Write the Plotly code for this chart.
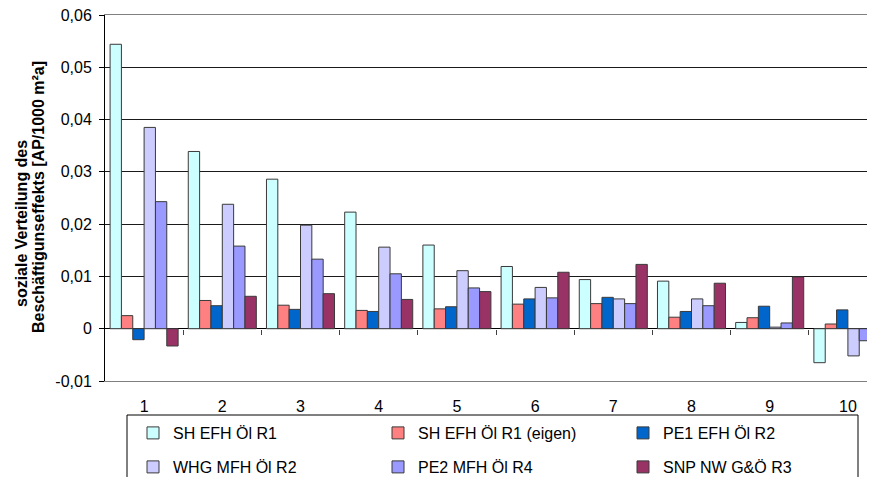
import plotly.graph_objects as go

categories = [1, 2, 3, 4, 5, 6, 7, 8, 9, 10]

series_names = ["SH EFH Öl R1", "SH EFH Öl R1 (eigen)", "PE1 EFH Öl R2",
                "WHG MFH Öl R2", "PE2 MFH Öl R4", "SNP NW G&Ö R3"]

sh_efh_r1 = [0.0544, 0.0339, 0.0286, 0.0223, 0.0160, 0.0119, 0.0094, 0.0091, 0.0012, -0.0065]
sh_efh_r1_eigen = [0.0025, 0.0054, 0.0045, 0.0035, 0.0038, 0.0047, 0.0048, 0.0022, 0.0021, 0.0009]
pe1_efh_r2 = [-0.0021, 0.0044, 0.0037, 0.0033, 0.0042, 0.0057, 0.0060, 0.0033, 0.0043, 0.0036]
whg_mfh_r2 = [0.0385, 0.0238, 0.0198, 0.0156, 0.0111, 0.0079, 0.0057, 0.0057, 0.0003, -0.0052]
pe2_mfh_r4 = [0.0243, 0.0158, 0.0133, 0.0105, 0.0078, 0.0059, 0.0048, 0.0044, 0.0011, -0.0023]
snp_nw_r3 = [-0.0033, 0.0062, 0.0067, 0.0056, 0.0071, 0.0108, 0.0123, 0.0087, 0.0099, 0.0089]

y_tickvals = [-0.01, 0, 0.01, 0.02, 0.03, 0.04, 0.05, 0.06]
y_ticktext = ["-0,01", "0", "0,01", "0,02", "0,03", "0,04", "0,05", "0,06"]
boundary_ticks = [1.5, 2.5, 3.5, 4.5, 5.5, 6.5, 7.5, 8.5, 9.5]

y_title_lines = ["soziale Verteilung des", "Beschäftigunseffekts [AP/1000 m²a]"]

colors = ["#CCFFFF", "#FF8080", "#0066CC", "#CCCCFF", "#9999FF", "#993366"]
values = [sh_efh_r1, sh_efh_r1_eigen, pe1_efh_r2, whg_mfh_r2, pe2_mfh_r4, snp_nw_r3]
legend_ids = ["legend", "legend", "legend", "legend2", "legend2", "legend2"]

FONT = "Arial, Liberation Sans, sans-serif"

fig = go.Figure()
for name, vals, col, lg in zip(series_names, values, colors, legend_ids):
    fig.add_trace(go.Bar(
        x=categories, y=vals, name=name, legend=lg,
        marker=dict(color=col, line=dict(color="#3a3a3a", width=1)),
    ))

# helper trace so that the boundary-tick axis is rendered
fig.add_trace(go.Scatter(x=[], y=[], xaxis="x2", showlegend=False, hoverinfo="skip"))

# the page body has an 8px margin; work in page pixels and convert
OFF = 8
W, H = 875 - OFF, 477 - OFF
PL, PR, PT, PB = 105, 875, 15, 381  # plot area in page pixels
L, R, T, B = PL - OFF, 875 - PR, PT - OFF, H - (PB - OFF)
pw, ph = W - L - R, H - T - B

def px_x(px):
    return (px - OFF - L) / pw

def px_y(py):
    return (H - B - (py - OFF)) / ph

fig.update_layout(
    width=W, height=H,
    margin=dict(l=L, r=R, t=T, b=B, autoexpand=False),
    paper_bgcolor="white", plot_bgcolor="white",
    barmode="group", bargap=0.13, bargroupgap=0,
    separators=",.",
    font=dict(family=FONT, size=16, color="black"),
    xaxis=dict(
        range=[0.5, 0.5 + pw / 78.2],
        tickvals=categories, ticktext=[str(c) for c in categories],
        ticks="", showgrid=False, zeroline=False,
        showline=True, mirror=True, linecolor="#808080", linewidth=1,
        ticklabelstandoff=11,
        tickfont=dict(size=16),
    ),
    xaxis2=dict(
        overlaying="x", matches="x", anchor="free", position=1 / 7,
        tickvals=boundary_ticks, ticks="outside", ticklen=5, tickcolor="#404040",
        showticklabels=False, showgrid=False, zeroline=False, showline=False,
    ),
    yaxis=dict(
        range=[-0.01, 0.06],
        tickvals=y_tickvals, ticktext=y_ticktext,
        ticks="outside", ticklen=5, tickcolor="black",
        showgrid=True, gridcolor="#1a1a1a", gridwidth=1,
        zeroline=True, zerolinecolor="black", zerolinewidth=1,
        showline=True, linecolor="black", linewidth=1,
        tickfont=dict(size=16),
        ticklabelstandoff=4,
        ticklabeloverflow="allow",
    ),
    legend=dict(
        orientation="h", x=px_x(133), xanchor="left", y=px_y(416), yanchor="top",
        entrywidth=200, entrywidthmode="pixels",
        bgcolor="rgba(0,0,0,0)", borderwidth=0,
        font=dict(size=16), traceorder="normal",
    ),
    legend2=dict(
        orientation="h", x=px_x(133), xanchor="left", y=px_y(450), yanchor="top",
        entrywidth=200, entrywidthmode="pixels",
        bgcolor="rgba(0,0,0,0)", borderwidth=0,
        font=dict(size=16), traceorder="normal",
    ),
    shapes=[dict(
        type="rect", xref="paper", yref="paper",
        x0=px_x(127), x1=px_x(858), y0=px_y(500), y1=px_y(415),
        line=dict(color="black", width=1), fillcolor="rgba(0,0,0,0)",
    )],
    annotations=[
        dict(text=y_title_lines[0], textangle=-90, xref="paper", yref="paper",
             x=px_x(21), y=px_y(224), xanchor="center", yanchor="middle",
             showarrow=False, font=dict(size=16, weight="bold")),
        dict(text=y_title_lines[1], textangle=-90, xref="paper", yref="paper",
             x=px_x(38), y=px_y(197), xanchor="center", yanchor="middle",
             showarrow=False, font=dict(size=16, weight="bold")),
    ],
    showlegend=True,
)

fig.write_html("out.html")
